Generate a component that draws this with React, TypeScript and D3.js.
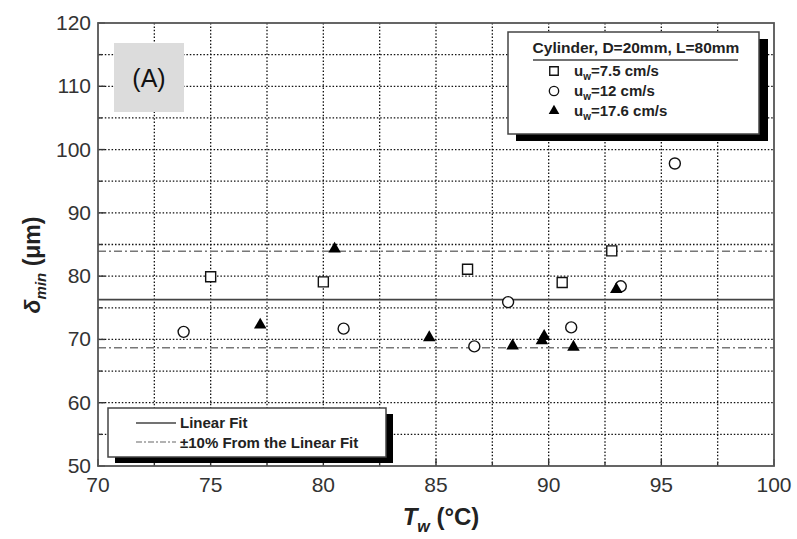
import React from 'react';
import * as d3 from 'd3';

// u_w = 7.5 cm/s (open squares)
const sqT = [75.0, 80.0, 86.4, 90.6, 92.8];
const sqD = [79.9, 79.1, 81.1, 79.0, 84.0];

// u_w = 12 cm/s (open circles)
const ciT = [73.8, 80.9, 86.7, 88.2, 91.0, 93.2, 95.6];
const ciD = [71.2, 71.7, 68.9, 75.9, 71.9, 78.4, 97.8];

// u_w = 17.6 cm/s (filled triangles)
const trT = [77.2, 80.5, 84.7, 88.4, 89.8, 89.7, 91.1, 93.0];
const trD = [72.3, 84.3, 70.3, 69.0, 70.5, 69.8, 68.8, 77.9];

const fitValue = 76.3;
const xTicks = [70, 75, 80, 85, 90, 95, 100];
const yTicks = [50, 60, 70, 80, 90, 100, 110, 120];
const legendSeries = ['7.5 cm/s', '12 cm/s', '17.6 cm/s'];

const W = 797;
const H = 539;
const left = 98;
const right = 774;
const top = 23;
const bottom = 466;

const x = d3.scaleLinear().domain([70, 100]).range([left, right]);
const y = d3.scaleLinear().domain([50, 120]).range([bottom, top]);

const square = d3.symbol().type(d3.symbolSquare).size(100)();
const circle = d3.symbol().type(d3.symbolCircle).size(95)();
const triangle = d3.symbol().type(d3.symbolTriangle).size(68)();

const font = 'Liberation Sans, Arial, sans-serif';

export default function App() {
  const vGrid = d3.range(72.5, 100, 2.5);
  const hGrid = d3.range(55, 120, 5);

  return (
    <svg
      width={W}
      height={H}
      style={{ position: 'absolute', left: 0, top: 0, background: '#fff' }}
      fontFamily={font}
    >
      <rect x={0} y={0} width={W} height={H} fill="#fff" />

      <g className="grid" stroke="#111" strokeWidth={1.3} strokeDasharray="1.5,1.9">
        {vGrid.map((v) => (
          <line key={'v' + v} x1={x(v)} x2={x(v)} y1={top} y2={bottom} />
        ))}
        {hGrid.map((v) => (
          <line key={'h' + v} x1={left} x2={right} y1={y(v)} y2={y(v)} />
        ))}
      </g>

      <g className="ticks" stroke="#333" strokeWidth={1.4}>
        {d3.range(70, 100.1, 2.5).map((v) => (
          <line key={'xt' + v} x1={x(v)} x2={x(v)} y1={bottom} y2={bottom - (v % 5 === 0 ? 7 : 4)} />
        ))}
        {d3.range(50, 120.1, 5).map((v) => (
          <line key={'yt' + v} x1={left} x2={left + (v % 10 === 0 ? 7 : 4)} y1={y(v)} y2={y(v)} />
        ))}
      </g>

      <g className="fit">
        <line x1={left} x2={right} y1={y(fitValue)} y2={y(fitValue)} stroke="#444" strokeWidth={1.7} />
        {[1.1, 0.9].map((f) => (
          <line
            key={f}
            x1={left}
            x2={right}
            y1={y(fitValue * f)}
            y2={y(fitValue * f)}
            stroke="#777"
            strokeWidth={1.5}
            strokeDasharray="8,3,2,3"
          />
        ))}
      </g>

      <rect x={left} y={top} width={right - left} height={bottom - top} fill="none" stroke="#555" strokeWidth={1.8} />

      <g className="tick-labels" fill="#333" fontSize={21}>
        {xTicks.map((v) => (
          <text key={'xl' + v} x={x(v)} y={bottom + 26} textAnchor="middle">
            {v}
          </text>
        ))}
        {yTicks.map((v) => (
          <text key={'yl' + v} x={left - 7} y={y(v) + 7} textAnchor="end">
            {v}
          </text>
        ))}
      </g>

      <g className="data" stroke="#111" strokeWidth={1.4}>
        {sqT.map((t, i) => (
          <path key={'s' + i} d={square} transform={`translate(${x(t)},${y(sqD[i])})`} fill="#fff" />
        ))}
        {ciT.map((t, i) => (
          <path key={'c' + i} d={circle} transform={`translate(${x(t)},${y(ciD[i])})`} fill="#fff" />
        ))}
        {trT.map((t, i) => (
          <path key={'t' + i} d={triangle} transform={`translate(${x(t)},${y(trD[i])})`} fill="#000" stroke="none" />
        ))}
      </g>

      <g className="label-a">
        <rect x={114} y={43} width={70} height={69} fill="#dcdcdc" />
        <text x={149} y={87} textAnchor="middle" fontSize={25} fill="#111">(A)</text>
      </g>

      <g className="legend-top">
        <rect x={516} y={39} width={252} height={102} fill="#000" />
        <rect x={508} y={32} width={251} height={102} fill="#fff" stroke="#444" strokeWidth={1.5} />
        <text x={636} y={53} textAnchor="middle" fontSize={15.5} fontWeight="bold" fill="#222">
          Cylinder, D=20mm, L=80mm
        </text>
        <line x1={533} x2={738} y1={60} y2={60} stroke="#444" strokeWidth={1.4} />
        {legendSeries.map((s, i) => {
          const ly = 71 + i * 20;
          const mark = i === 0 ? square : i === 1 ? circle : triangle;
          return (
            <g key={s}>
              <path
                d={mark}
                transform={`translate(554,${ly}) scale(0.85)`}
                fill={i === 2 ? '#000' : '#fff'}
                stroke={i === 2 ? 'none' : '#111'}
                strokeWidth={1.6}
              />
              <text x={574} y={ly + 5} fontSize={15} fontWeight="bold" fill="#222">
                u<tspan dy={4} fontSize={10}>w</tspan>
                <tspan dy={-4}>={s}</tspan>
              </text>
            </g>
          );
        })}
      </g>

      <g className="legend-bottom">
        <rect x={115} y={414} width={278} height={49} fill="#000" />
        <rect x={108} y={408} width={278} height={49} fill="#fff" stroke="#444" strokeWidth={1.5} />
        <line x1={136} x2={176} y1={423} y2={423} stroke="#444" strokeWidth={1.5} />
        <line x1={136} x2={176} y1={442} y2={442} stroke="#999" strokeWidth={1.4} strokeDasharray="6,2,2,2" />
        <text x={180} y={428} fontSize={15} fontWeight="bold" fill="#222">Linear Fit</text>
        <text x={180} y={448} fontSize={15} fontWeight="bold" fill="#222">±10% From the Linear Fit</text>
      </g>

      <g className="axis-titles" fill="#222" fontWeight="bold" fontSize={24}>
        <text x={441} y={525} textAnchor="middle">
          <tspan fontStyle="italic">T</tspan>
          <tspan fontStyle="italic" fontSize={16} dy={7}>w</tspan>
          <tspan dy={-7}> (°C)</tspan>
        </text>
        <text transform={`translate(40,265) rotate(-90)`} textAnchor="middle" fontSize={23}>
          <tspan fontStyle="italic">δ</tspan>
          <tspan fontStyle="italic" fontSize={15} dy={6}>min</tspan>
          <tspan dy={-6}> (μm)</tspan>
        </text>
      </g>
    </svg>
  );
}
